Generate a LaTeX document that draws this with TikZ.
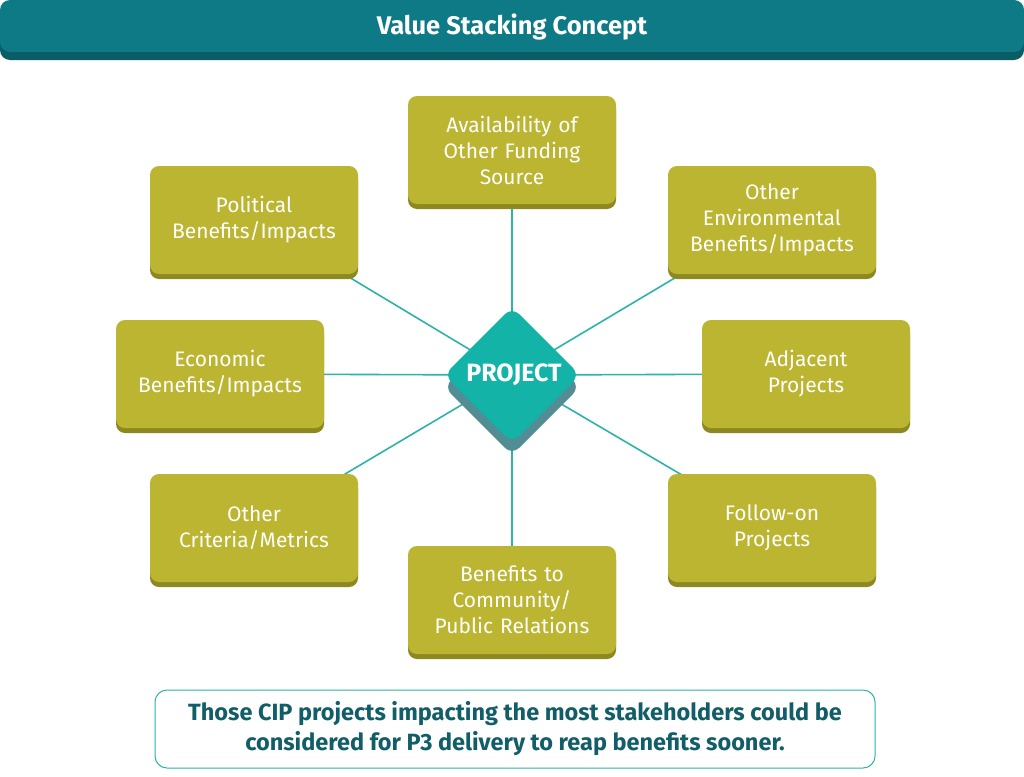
\documentclass[tikz,border=0pt]{standalone}
\usepackage{fontspec}
\setmainfont{Fira Sans}
\usetikzlibrary{shapes.geometric}
\definecolor{teal1}{HTML}{0E7A86}
\definecolor{teal2}{HTML}{0A5C66}
\definecolor{olive}{HTML}{BCB531}
\definecolor{olived}{HTML}{8E8822}
\definecolor{lineC}{HTML}{2DB3A8}
\definecolor{diam}{HTML}{14B3A8}
\definecolor{txt}{HTML}{125E68}
\begin{document}
\begin{tikzpicture}[x=1pt,y=-1pt,
  box/.style={fill=olive,rounded corners=9pt,minimum width=208pt,minimum height=108pt,text width=200pt,align=center,text=white,font=\fontsize{21}{26}\selectfont,inner sep=0pt},
  shade/.style={fill=olived,rounded corners=9pt,minimum width=208pt,minimum height=108pt},
  conn/.style={draw=lineC,line width=1.6pt}]
\useasboundingbox (0,0) rectangle (1024,776);
\fill[white] (0,0) rectangle (1024,776);
% title
\fill[teal2,rounded corners=10pt] (0,4) rectangle (1024,60);
\fill[teal1,rounded corners=10pt] (0,0) rectangle (1024,52);
\node (title) at (512,27) {\fontsize{25.5}{28}\selectfont\bfseries\color{white}Value Stacking Concept};
% connectors
\coordinate (c) at (512,375);
\foreach \p in {(512,150),(254,220),(772,220),(220,374),(806,374),(254,528),(772,528),(512,600)}
  \draw[conn] (c) -- \p;
% boxes
\foreach \n/\x/\y/\t in {b1/512/150/{Availability of\\Other Funding\\Source},
  b2/254/220/{Political\\Benefits/Impacts},
  b3/772/220/{Other\\Environmental\\Benefits/Impacts},
  b4/220/374/{Economic\\Benefits/Impacts},
  b5/806/374/{Adjacent\\Projects},
  b6/254/528/{Other\\Criteria/Metrics},
  b7/772/528/{Follow-on\\Projects},
  b8/512/600/{Benefits to\\Community/\\Public Relations}}{
  \node[shade] at (\x,\y+5) {};
  \node[box] (\n) at (\x,\y) {\t};
}
% diamond
\fill[teal2!70,rounded corners=10pt] (512,319) -- (580,387) -- (512,455) -- (444,387) -- cycle;
\fill[diam,rounded corners=10pt] (512,307) -- (580,375) -- (512,443) -- (444,375) -- cycle;
\node (proj) at (514,375) {\fontsize{25}{26}\selectfont\bfseries\color{white}PROJECT};
% bottom note
\node[draw=lineC,line width=1pt,rounded corners=12pt,minimum width=720pt,minimum height=78pt,align=center,font=\fontsize{23.5}{30}\selectfont\bfseries,text=txt] (note) at (515,729) {Those CIP projects impacting the most stakeholders could be\\considered for P3 delivery to reap benefits sooner.};
\end{tikzpicture}
\end{document}
